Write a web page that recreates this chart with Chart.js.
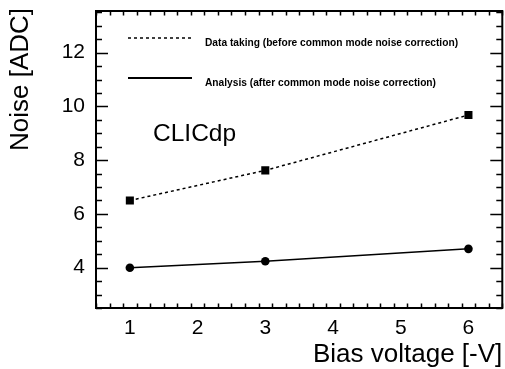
<!DOCTYPE html>
<html>
<head>
<meta charset="utf-8">
<script src="https://cdn.jsdelivr.net/npm/chart.js@4/dist/chart.umd.min.js"></script>
<style>
  html, body { margin: 0; padding: 0; background: #fff; overflow: hidden; }
  #wrap { width: 505px; height: 369px; overflow: hidden; }
</style>
</head>
<body>
<!-- холст чуть шире окна: Chart.js оставляет ~5px справа, а рамка ROOT идёт почти до края -->
<div id="wrap"><canvas id="noiseChart" width="508" height="369"></canvas></div>
<script>
// Данные: шум до и после коррекции синфазного шума
const biasVoltages = [1, 3, 6];
const noiseDataTaking = [6.5, 7.62, 9.68];
const noiseAnalysis = [4.0, 4.24, 4.7];

const xTickValues = [1, 2, 3, 4, 5, 6];
const yTickValues = [4, 6, 8, 10, 12];

const legendLabels = [
  'Data taking (before common mode noise correction)',
  'Analysis (after common mode noise correction)'
];

const FONT = "'Liberation Sans', Arial, Helvetica, sans-serif";
Chart.defaults.font.family = FONT;
Chart.defaults.color = '#000';

// убираем автоматические отступы под подписи, чтобы область графика была фиксированной
function noScalePadding(scale) {
  scale.paddingTop = 0;
  scale.paddingBottom = 0;
  scale.paddingLeft = 0;
  scale.paddingRight = 0;
}

// Плагин в стиле ROOT: рамка, внутренние деления, подписи осей, легенда
const rootStylePlugin = {
  id: 'rootStyle',
  afterDraw: (chart) => {
    const ctx = chart.ctx;
    const area = chart.chartArea;
    const xs = chart.scales.x;
    const ys = chart.scales.y;
    ctx.save();
    ctx.strokeStyle = '#000';

    // деления по X (внизу и вверху)
    ctx.lineWidth = 1.5;
    for (let v = xs.min; v <= xs.max + 1e-9; v += 0.2) {
      const major = Math.abs(v - Math.round(v)) < 1e-6;
      const len = major ? 9 : 4.5;
      const px = Math.round(xs.getPixelForValue(v)) + 0.5;
      ctx.beginPath();
      ctx.moveTo(px, area.bottom);
      ctx.lineTo(px, area.bottom - len);
      ctx.moveTo(px, area.top);
      ctx.lineTo(px, area.top + len);
      ctx.stroke();
    }
    // деления по Y (слева и справа)
    for (let v = ys.min; v <= ys.max + 1e-9; v += 0.5) {
      const major = Math.abs(v / 2 - Math.round(v / 2)) < 1e-6;
      const len = major ? 12 : 6;
      const py = Math.round(ys.getPixelForValue(v)) + 0.5;
      ctx.beginPath();
      ctx.moveTo(area.left, py);
      ctx.lineTo(area.left + len, py);
      ctx.moveTo(area.right, py);
      ctx.lineTo(area.right - len, py);
      ctx.stroke();
    }

    // рамка
    ctx.lineWidth = 2;
    ctx.strokeRect(area.left, area.top, area.right - area.left, area.bottom - area.top);

    // подписи осей
    ctx.fillStyle = '#000';
    ctx.font = '26px ' + FONT;
    ctx.textAlign = 'right';
    ctx.textBaseline = 'alphabetic';
    ctx.fillText('Bias voltage [-V]', area.right, 362);
    ctx.save();
    ctx.translate(28, area.top - 3);
    ctx.rotate(-Math.PI / 2);
    ctx.fillText('Noise [ADC]', 0, 0);
    ctx.restore();

    // легенда
    const lx0 = area.left + 32;
    const lx1 = area.left + 96;
    const rows = [area.top + 27, area.top + 67];
    ctx.lineWidth = 1.5;
    ctx.setLineDash([3, 3]);
    ctx.beginPath();
    ctx.moveTo(lx0, rows[0]);
    ctx.lineTo(lx1, rows[0]);
    ctx.stroke();
    ctx.setLineDash([]);
    ctx.lineWidth = 2;
    ctx.beginPath();
    ctx.moveTo(lx0, rows[1]);
    ctx.lineTo(lx1, rows[1]);
    ctx.stroke();
    ctx.font = 'bold 10.2px ' + FONT;
    ctx.textAlign = 'left';
    ctx.textBaseline = 'middle';
    ctx.fillText(legendLabels[0], area.left + 109, rows[0] + 5);
    ctx.fillText(legendLabels[1], area.left + 109, rows[1] + 5);

    // CLICdp
    ctx.font = '24.5px ' + FONT;
    ctx.textBaseline = 'alphabetic';
    ctx.fillText('CLICdp', area.left + 57, 141);
    ctx.restore();
  }
};

new Chart(document.getElementById('noiseChart'), {
  type: 'line',
  data: {
    datasets: [
      {
        label: legendLabels[0],
        data: biasVoltages.map((v, i) => ({ x: v, y: noiseDataTaking[i] })),
        borderColor: '#000',
        backgroundColor: '#000',
        borderWidth: 1.5,
        borderDash: [3, 3],
        pointStyle: 'rect',
        pointRadius: 5.7,
        pointBorderWidth: 0,
        fill: false
      },
      {
        label: legendLabels[1],
        data: biasVoltages.map((v, i) => ({ x: v, y: noiseAnalysis[i] })),
        borderColor: '#000',
        backgroundColor: '#000',
        borderWidth: 1.5,
        pointStyle: 'circle',
        pointRadius: 4.3,
        pointBorderWidth: 0,
        fill: false
      }
    ]
  },
  options: {
    responsive: false,
    animation: false,
    layout: { padding: { top: 11, right: 2, left: 0, bottom: 0 } },
    plugins: {
      legend: { display: false },
      tooltip: { enabled: false }
    },
    scales: {
      x: {
        type: 'linear',
        min: 0.5,
        max: 6.5,
        grid: { display: false, drawTicks: false },
        border: { display: false },
        afterBuildTicks: (scale) => { scale.ticks = xTickValues.map(v => ({ value: v })); },
        afterFit: (scale) => { scale.height = 61; noScalePadding(scale); },
        ticks: { font: { size: 21 }, padding: 8, maxRotation: 0 }
      },
      y: {
        type: 'linear',
        min: 2.5,
        max: 13.55,
        grid: { display: false, drawTicks: false },
        border: { display: false },
        afterBuildTicks: (scale) => { scale.ticks = yTickValues.map(v => ({ value: v })); },
        afterFit: (scale) => { scale.width = 96; noScalePadding(scale); },
        ticks: { font: { size: 21 }, padding: 11 }
      }
    }
  },
  plugins: [rootStylePlugin]
});
</script>
</body>
</html>
